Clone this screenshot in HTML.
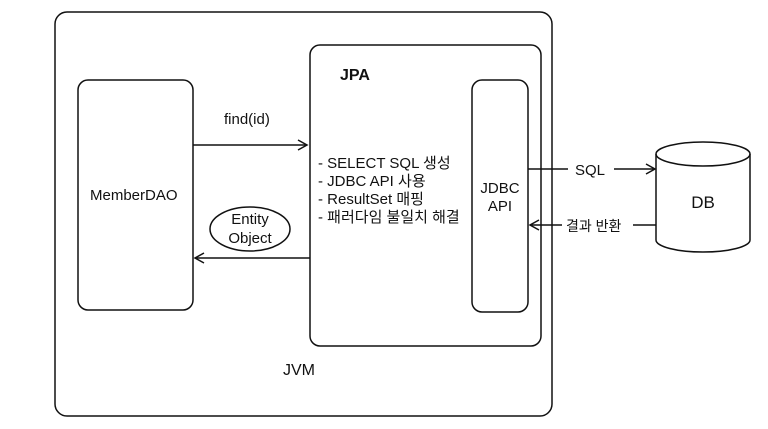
<!DOCTYPE html>
<html><head><style>body{margin:0;background:#fff}</style></head><body>
<svg width="768" height="424" xmlns="http://www.w3.org/2000/svg" font-family="Liberation Sans, 'Noto Sans CJK KR', sans-serif" fill="none" stroke="#111" stroke-width="1.5">
<rect x="55" y="12" width="497" height="404" rx="12"/>
<rect x="310" y="45" width="231" height="301" rx="10"/>
<rect x="78" y="80" width="115" height="230" rx="10"/>
<rect x="472" y="80" width="56" height="232" rx="10"/>
<line x1="193" y1="145" x2="306" y2="145"/><path d="M298 140 L307 145 L298 150"/>
<line x1="310" y1="258" x2="196" y2="258"/><path d="M204 253 L195 258 L204 263"/>
<ellipse cx="250" cy="229" rx="40" ry="22"/>
<line x1="528" y1="169" x2="568" y2="169"/><line x1="614" y1="169" x2="654" y2="169"/><path d="M646 164 L655 169 L646 174"/>
<line x1="656" y1="225" x2="633" y2="225"/><line x1="562" y1="225" x2="531" y2="225"/><path d="M539 220 L530 225 L539 230"/>
<path d="M656 154 L656 240 A47 12 0 0 0 750 240 L750 154"/>
<ellipse cx="703" cy="154" rx="47" ry="12"/>
<g fill="#111" stroke="none" font-size="15">
<text x="340" y="80" font-weight="bold" font-size="16">JPA</text>
<text x="224" y="124">find(id)</text>
<text x="90" y="200">MemberDAO</text>
<text x="250" y="224" text-anchor="middle">Entity</text>
<text x="250" y="243" text-anchor="middle">Object</text>
<text x="318" y="168">- SELECT SQL 생성</text>
<text x="318" y="186">- JDBC API 사용</text>
<text x="318" y="204">- ResultSet 매핑</text>
<text x="318" y="222">- 패러다임 불일치 해결</text>
<text x="500" y="193" text-anchor="middle">JDBC</text>
<text x="500" y="211" text-anchor="middle">API</text>
<text x="575" y="175">SQL</text>
<text x="566" y="231" font-size="14">결과 반환</text>
<text x="703" y="208" text-anchor="middle" font-size="17">DB</text>
<text x="283" y="375" font-size="16">JVM</text>
</g>
</svg>
</body></html>
